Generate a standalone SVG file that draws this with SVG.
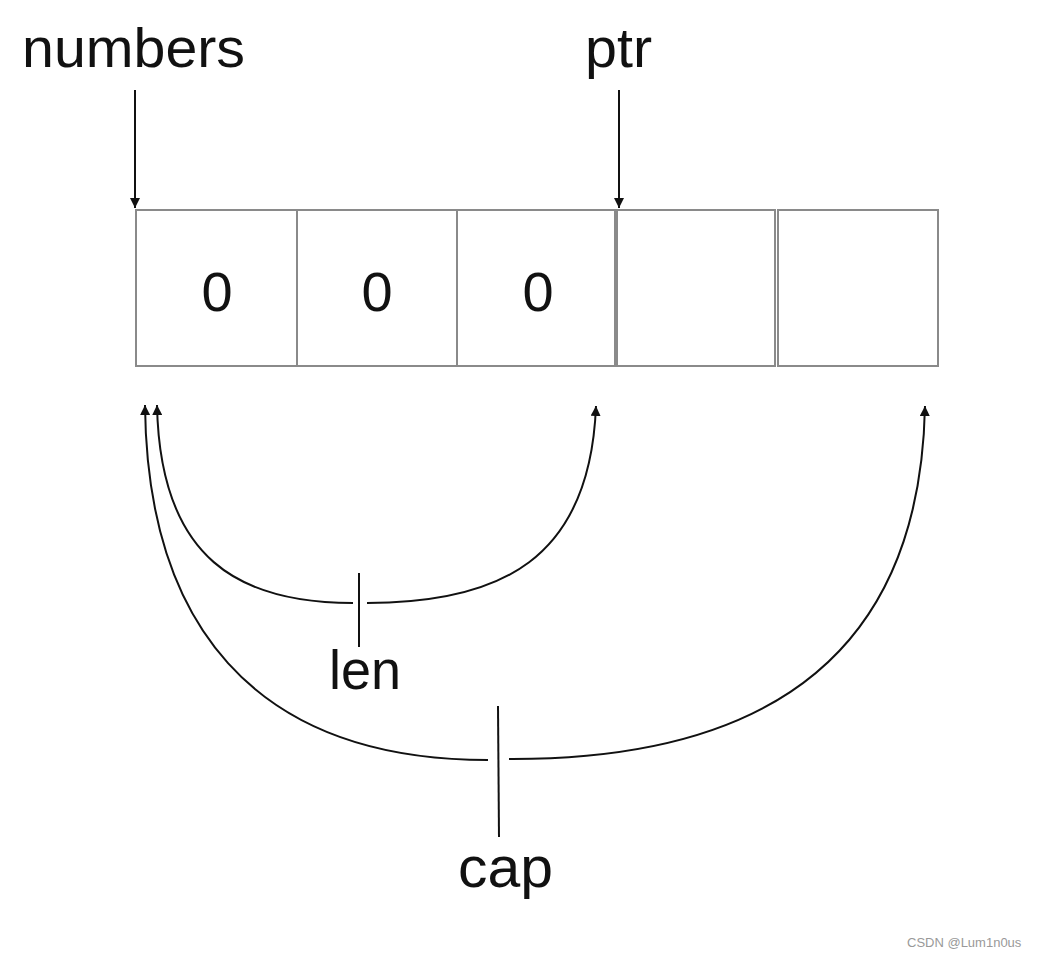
<svg xmlns="http://www.w3.org/2000/svg" width="1038" height="958" viewBox="0 0 1038 958">
<defs>
<marker id="ah" viewBox="0 0 10 10" refX="10" refY="5" markerWidth="5" markerHeight="5" orient="auto" markerUnits="strokeWidth">
<path d="M0,0 L10,5 L0,10 z" fill="#111"/>
</marker>
<style>
.lbl{font-family:"Liberation Sans",Arial,sans-serif;fill:#111}
.cell{fill:#fff;stroke:#8a8a8a;stroke-width:2}
.conn{fill:none;stroke:#111;stroke-width:2}
</style>
</defs>
<rect width="1038" height="958" fill="#fff"/>
<g id="label-numbers"><text class="lbl" x="22" y="67" font-size="56" textLength="223" lengthAdjust="spacingAndGlyphs">numbers</text></g>
<g id="label-ptr"><text class="lbl" x="585" y="67" font-size="56" textLength="67" lengthAdjust="spacingAndGlyphs">ptr</text></g>
<g id="cell-0"><rect class="cell" x="136" y="210" width="161" height="156"/><text class="lbl" x="217" y="311" font-size="56" text-anchor="middle">0</text></g>
<g id="cell-1"><rect class="cell" x="297" y="210" width="160" height="156"/><text class="lbl" x="377" y="311" font-size="56" text-anchor="middle">0</text></g>
<g id="cell-2"><rect class="cell" x="457" y="210" width="158" height="156"/><text class="lbl" x="538" y="311" font-size="56" text-anchor="middle">0</text></g>
<g id="cell-3"><rect class="cell" x="617" y="210" width="158" height="156"/></g>
<g id="cell-4"><rect class="cell" x="778" y="210" width="160" height="156"/></g>
<g id="label-len"><text class="lbl" x="329" y="689" font-size="56" textLength="72" lengthAdjust="spacingAndGlyphs">len</text></g>
<g id="label-cap"><text class="lbl" x="458" y="887" font-size="58" textLength="95" lengthAdjust="spacingAndGlyphs">cap</text></g>
<g id="connectors">
<line class="conn" x1="135" y1="90" x2="135" y2="208" marker-end="url(#ah)"/>
<line class="conn" x1="619" y1="90" x2="619" y2="208" marker-end="url(#ah)"/>
<path class="conn" d="M353,603 C240,603 160,560 157,405" marker-end="url(#ah)"/>
<path class="conn" d="M367,603 C500,603 590,560 596,406" marker-end="url(#ah)"/>
<line class="conn" x1="359" y1="573" x2="359" y2="647"/>
<path class="conn" d="M488,760 C250,760 147,620 145,405" marker-end="url(#ah)"/>
<path class="conn" d="M509,759 C760,760 920,660 925,406" marker-end="url(#ah)"/>
<line class="conn" x1="498" y1="706" x2="499" y2="837"/>
</g>
<text x="907" y="947" font-family="Liberation Sans,Arial,sans-serif" font-size="13" fill="#999">CSDN @Lum1n0us</text>
</svg>
